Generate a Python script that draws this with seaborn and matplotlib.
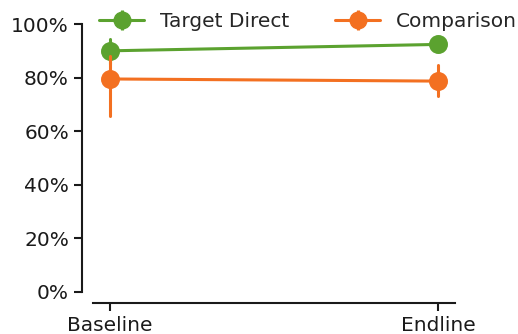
import matplotlib
matplotlib.use("Agg")
import matplotlib.pyplot as plt
import matplotlib.ticker as mtick
from matplotlib.lines import Line2D
from matplotlib.collections import LineCollection
from matplotlib.container import ErrorbarContainer
import pandas as pd
import seaborn as sns

# Survey rounds and groups
rounds = ["Baseline", "Endline"]
groups = ["Target Direct", "Comparison"]

# Point estimates (share of respondents) per group and round
target_direct = [0.900, 0.924]
comparison = [0.795, 0.787]

# Lower / upper bounds of the interval around each estimate
target_direct_low = [0.850, 0.905]
target_direct_high = [0.946, 0.945]
comparison_low = [0.657, 0.732]
comparison_high = [0.880, 0.847]

colors = {"Target Direct": "#5ba22f", "Comparison": "#f37021"}
MS = 12
LW = 2.2

# Long table: each (group, round) holds its low bound, estimate and high bound,
# so the median is the estimate and the full percentile interval spans the bounds.
rows = []
for name, est, lo, hi in [
    ("Target Direct", target_direct, target_direct_low, target_direct_high),
    ("Comparison", comparison, comparison_low, comparison_high),
]:
    for i, r in enumerate(rounds):
        for v in (lo[i], est[i], hi[i]):
            rows.append({"group": name, "round": r, "value": v})
df = pd.DataFrame(rows)

sns.set_style("ticks")
fig = plt.figure(figsize=(5.18, 3.34), dpi=100)
ax = fig.add_axes([0.18, 0.126, 0.698, 0.802])

sns.pointplot(
    data=df, x="round", y="value", hue="group", order=rounds, hue_order=groups,
    palette=colors, estimator="median", errorbar=("pi", 100),
    markersize=MS, linewidth=LW, err_kws={"linewidth": LW}, legend=False, ax=ax,
)

ax.set_ylim(0, 1)
ax.set_xlim(-0.05, 1.05)
ax.yaxis.set_major_locator(mtick.MultipleLocator(0.2))
ax.yaxis.set_major_formatter(mtick.PercentFormatter(1.0, decimals=0))
ax.set_xlabel("")
ax.set_ylabel("")
ax.tick_params(labelsize=14.5, length=6, width=1.5, colors="#1a1a1a")
for s in ax.spines.values():
    s.set_linewidth(1.5)
    s.set_color("#1a1a1a")
sns.despine(ax=ax, offset=8)

# Legend entries drawn as error-bar handles (line, marker and vertical bar)
handles = []
for g in groups:
    line = Line2D([], [], color=colors[g], marker="o", markersize=MS, linewidth=LW)
    bar = LineCollection([], colors=colors[g], linewidths=LW)
    handles.append(ErrorbarContainer((line, (), [bar]), has_xerr=False, has_yerr=True, label=g))
ax.legend(
    handles, groups, ncol=2, frameon=False, fontsize=14.5,
    loc="center left", bbox_to_anchor=(-0.005, 1.008), handlelength=2.2,
    columnspacing=2.3, handletextpad=0.8, borderaxespad=0,
)

fig.savefig("out.png", dpi=100)
